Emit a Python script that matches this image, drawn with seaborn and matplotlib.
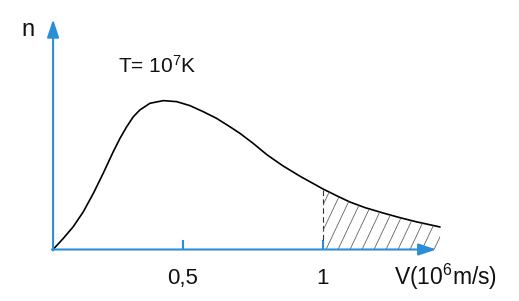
import numpy as np
import matplotlib
matplotlib.use("Agg")
import matplotlib.pyplot as plt
import seaborn as sns
import pandas as pd

# ---- data ----
speed = [0.036, 0.0725, 0.108, 0.144, 0.180, 0.215, 0.251, 0.275, 0.299,
         0.3225, 0.346, 0.382, 0.430, 0.4775, 0.525, 0.5725, 0.620, 0.668,
         0.704, 0.750, 0.800, 0.857, 0.918, 1.000, 1.050, 1.096, 1.150,
         1.214, 1.275, 1.336, 1.380, 1.418]
count = [0.000, 0.075, 0.154, 0.255, 0.380, 0.515, 0.661, 0.751, 0.830,
         0.897, 0.943, 0.988, 1.006, 0.999, 0.972, 0.931, 0.886, 0.829,
         0.784, 0.718, 0.640, 0.565, 0.495, 0.409, 0.362, 0.321, 0.283,
         0.247, 0.215, 0.186, 0.168, 0.152]
tick_values = [0.5, 1.0]
tick_labels = ["0,5", "1"]
shade_from = 1.0

sns.set_theme(style="white")
plt.rcParams['font.family'] = ['Liberation Sans', 'DejaVu Sans']
plt.rcParams['mathtext.default'] = 'regular'

blue = '#2a8fd8'
df = pd.DataFrame({"v": speed, "n": count})

fig = plt.figure(figsize=(5.19, 3.01), dpi=100)
ax = fig.add_axes([0, 0, 1, 1])
ax.set_xlim(-43 / 280, (519 - 43) / 280)
ax.set_ylim(-(301 - 249.5) / 148, 249.5 / 148)
ax.axis('off')

x0 = speed[0]
# axes with arrows
ax.annotate('', xy=(1.405, 0), xytext=(x0 - 0.004, 0),
            arrowprops=dict(arrowstyle='-|>,head_length=0.9,head_width=0.3',
                            color=blue, lw=1.5, shrinkA=0, shrinkB=0))
ax.annotate('', xy=(x0, 1.555), xytext=(x0, -0.006),
            arrowprops=dict(arrowstyle='-|>,head_length=0.9,head_width=0.3',
                            color=blue, lw=1.5, shrinkA=0, shrinkB=0))
for tv, tl in zip(tick_values, tick_labels):
    ax.plot([tv, tv], [0, 0.062], color=blue, lw=1.5, solid_capstyle='butt')
    ax.text(tv, -0.233, tl, ha='center', va='baseline', fontsize=16, color='#111111')

# curve
sns.lineplot(data=df, x="v", y="n", ax=ax, color='black', lw=1.2,
             estimator=None, sort=False)

# dashed line at v=1
n_at = count[speed.index(shade_from)]
ax.plot([shade_from, shade_from], [0.062, n_at], color='#333333', lw=0.8,
        linestyle=(0, (5, 3)))

# hatched region
sv = np.array(speed)
sn = np.array(count)
m = sv >= shade_from
poly = ax.fill_between(sv[m], 0, sn[m], facecolor='none', edgecolor='none')
clip = poly.get_paths()[0]
spacing = 12 / 280
for s in np.arange(1.0536 - 12 * spacing, 1.45, spacing):
    ln, = ax.plot([s, s + 0.25 * 0.5], [0, 0.5], color='#555555', lw=0.55)
    ln.set_clip_path(clip, ax.transData)

# texts
ax.text(-0.054, 1.44, "n", ha='center', va='baseline', fontsize=17, color='#111111')
ax.text(0.268, 1.193, r"T= 10$^{7}$K", ha='left', va='baseline', fontsize=15,
        color='#111111')
ax.text((394 - 43) / 280, -0.238, r"V(10$^{6}$m/s)", ha='left', va='baseline',
        fontsize=16.5, color='#111111')

fig.savefig("out.png", dpi=100)
